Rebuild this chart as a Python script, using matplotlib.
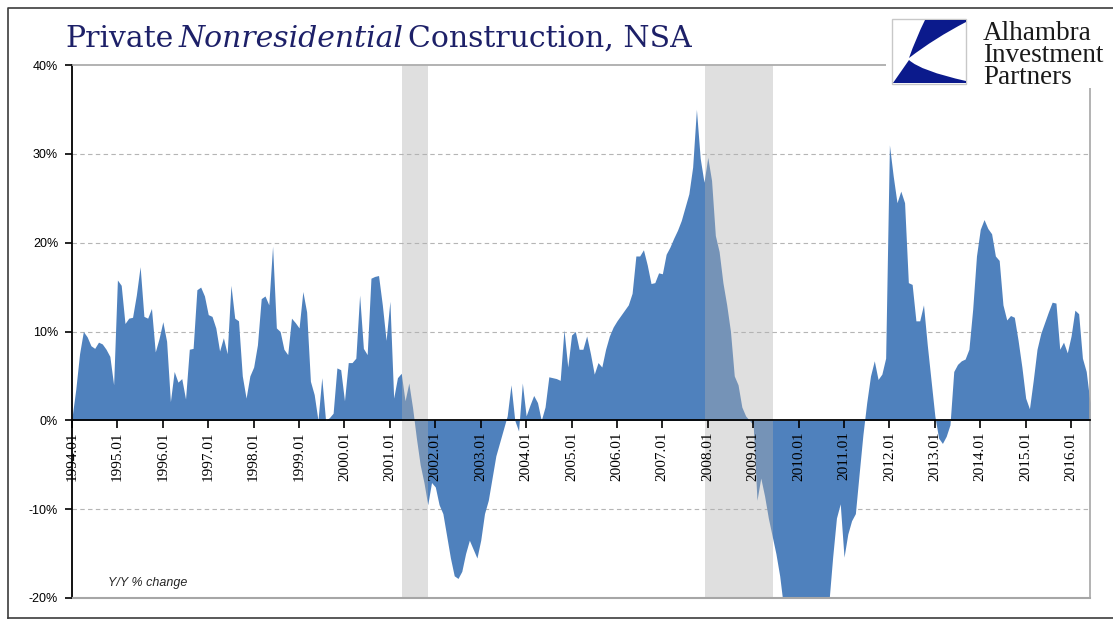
import numpy as np
import matplotlib
matplotlib.use("Agg")
import matplotlib.pyplot as plt
from matplotlib.patches import Rectangle, PathPatch
from matplotlib.path import Path

# monthly categories 1994.01 .. 2016.06
months = [f"{1994 + i // 12}.{i % 12 + 1:02d}" for i in range(270)]

# private nonresidential construction spending, Y/Y % change (NSA)
yoy = [
    0.3, 3.5, 7.5, 10, 9.4, 8.4, 8.1, 8.8, 8.6, 8, 7.2, 4,                       # 1994
    15.8, 15.2, 10.9, 11.5, 11.6, 14.1, 17.3, 11.7, 11.5, 12.6, 7.7, 9.2,        # 1995
    11.1, 8.9, 2.1, 5.5, 4.3, 4.7, 2.4, 8, 8.1, 14.7, 15, 14,                    # 1996
    11.9, 11.7, 10.4, 7.8, 9.3, 7.5, 15.2, 11.5, 11.2, 5, 2.5, 5,                # 1997
    6, 8.5, 13.7, 14, 13, 19.6, 10.4, 10, 8, 7.4, 11.5, 11,                      # 1998
    10.4, 14.5, 12.2, 4.4, 2.9, 0, 4.8, 0, 0.3, 0.8, 5.9, 5.7,                   # 1999
    2.2, 6.5, 6.5, 7, 14.1, 8.1, 7.4, 16, 16.2, 16.3, 13, 9,                     # 2000
    13.4, 2.5, 4.8, 5.3, 2.2, 4.2, 1.4, -2, -5, -7, -9.5, -7,                    # 2001
    -7.5, -9.5, -10.5, -13, -15.5, -17.5, -17.8, -17, -15, -13.5, -14.5, -15.5,  # 2002
    -13.5, -10.5, -9, -6.5, -4, -2.5, -1, 0.5, 4, 0, -1.2, 4.2,                  # 2003
    0.5, 1.7, 2.8, 2, 0, 1.5, 4.9, 4.8, 4.7, 4.5, 10.2, 6,                       # 2004
    9.6, 10, 8, 8, 9.5, 7.5, 5.2, 6.5, 6, 8, 9.5, 10.5,                          # 2005
    11.2, 11.8, 12.4, 13, 14.3, 18.5, 18.5, 19.2, 17.5, 15.4, 15.5, 16.6,        # 2006
    16.5, 18.7, 19.5, 20.5, 21.4, 22.5, 24, 25.5, 28.5, 35, 29.5, 26.8,          # 2007
    29.6, 27, 20.8, 19, 15.5, 13, 10, 5, 4, 1.5, 0.5, 0,                         # 2008
    -0.5, -9, -6.5, -8.5, -11, -13, -15, -17.5, -21, -23, -25, -26,              # 2009
    -27, -28, -28, -27, -26, -25, -24, -22, -20.5, -15.4, -11, -9.4,             # 2010
    -15.4, -12.8, -11.3, -10.5, -6, -1.6, 2, 5, 6.7, 4.6, 5.2, 7,                # 2011
    31, 27.5, 24.5, 25.8, 24.5, 15.5, 15.3, 11.2, 11.2, 13, 8.5, 4.5,            # 2012
    0.5, -2, -2.6, -1.8, -0.5, 5.5, 6.3, 6.7, 6.9, 8, 12.5, 18.5,                # 2013
    21.5, 22.6, 21.6, 21, 18.5, 18, 13, 11.3, 11.8, 11.6, 9, 6,                  # 2014
    2.5, 1.3, 4.5, 8, 9.8, 11, 12.2, 13.3, 13.2, 8, 8.8, 7.6,                    # 2015
    9.5, 12.4, 12, 7, 5.5, 2,                                                    # 2016
]

# NBER recessions (first, last month)
recessions = [("2001.04", "2001.11"), ("2007.12", "2009.06")]

y_ticks = [-20, -10, 0, 10, 20, 30, 40]
y_ticklabels = [f"{v}%" for v in y_ticks]

W, H = 1113, 624
fig = plt.figure(figsize=(W / 100, H / 100), dpi=100)
fig.patch.set_facecolor("white")


def px_box(l, t, r, b):
    return [l / W, 1 - b / H, (r - l) / W, (b - t) / H]


ax = fig.add_axes(px_box(72, 65, 1090, 598))
x = np.arange(len(yoy))

for v in (-10, 10, 20, 30):
    ax.axhline(v, color="#b5b5b5", lw=0.8, ls=(0, (4, 3)), zorder=1)

ax.fill_between(x, yoy, 0, color="#4f81bd", lw=0, zorder=2)

for a, b in recessions:
    ax.axvspan(months.index(a) + 0.3, months.index(b) + 0.2,
               color="#b0b0b0", alpha=0.4, lw=0, zorder=3)

ax.set_xlim(0, len(yoy) - 1)
ax.set_ylim(-20, 40)

ax.set_yticks(y_ticks)
ax.set_yticklabels(y_ticklabels)
ax.set_xticks(x[::12])
ax.set_xticklabels(months[::12])

ax.spines["bottom"].set_position(("data", 0))
ax.spines["bottom"].set_zorder(6)
for s in ("bottom", "left"):
    ax.spines[s].set_color("black")
    ax.spines[s].set_linewidth(1.3)
for s in ("top", "right"):
    ax.spines[s].set_color("#a6a6a6")
    ax.spines[s].set_linewidth(1.2)
ax.axhline(-20, color="#a6a6a6", lw=1.5, clip_on=False, zorder=6)

# ticks and their labels sit above the filled area
ax.xaxis.set_zorder(7)
ax.yaxis.set_zorder(7)
ax.tick_params(axis="x", direction="out", length=6, width=1.2, pad=2, labelrotation=90)
ax.tick_params(axis="y", direction="out", length=5, width=1.2, pad=5)
for lab in ax.get_xticklabels():
    lab.set_fontfamily("Liberation Serif")
    lab.set_fontsize(11)
for lab in ax.get_yticklabels():
    lab.set_fontfamily("Liberation Sans")
    lab.set_fontsize(9)

ax.text(9.5, -18.6, "Y/Y % change", fontsize=9, style="italic",
        family="Liberation Sans", color="#262626", ha="left", va="baseline", zorder=7)

# overlay in pixel coordinates for title, logo and chart border
ov = fig.add_axes([0, 0, 1, 1])
ov.set_zorder(5)
ov.patch.set_visible(False)
ov.set_xlim(0, W)
ov.set_ylim(H, 0)
ov.axis("off")

ov.plot([8, 8, W], [H - 6, 8, 8], color="#3c3c3c", lw=1.2)
ov.plot([8, W], [H - 6, H - 6], color="#3c3c3c", lw=1.2)

# title with an italic middle word
renderer = fig.canvas.get_renderer()
title_parts = [("Private", "normal"), ("Nonresidential", "italic"), ("Construction, NSA", "normal")]
tx = 65
for word, st in title_parts:
    t = ov.text(tx, 47, word, fontsize=21.5, family="DejaVu Serif", style=st,
                color="#1d2068", ha="left", va="baseline")
    bb = t.get_window_extent(renderer=renderer)
    tx += bb.width + 5

# logo
ov.add_patch(Rectangle((886, 12), 227, 76, fc="white", ec="none", zorder=2))
ov.add_patch(Rectangle((892, 19), 74, 65, fc="white", ec="#c8c8c8", lw=1, zorder=3))
navy = "#0b1a8c"
upper = Path([(925, 20), (966, 20), (966, 22), (935, 38), (909, 58), (916, 38), (925, 20)],
             [Path.MOVETO, Path.LINETO, Path.LINETO, Path.CURVE3, Path.CURVE3,
              Path.CURVE3, Path.CURVE3])
lower = Path([(909, 60), (893, 83), (966, 83), (966, 81), (921, 71), (909, 60)],
             [Path.MOVETO, Path.LINETO, Path.LINETO, Path.LINETO, Path.CURVE3, Path.CURVE3])
ov.add_patch(PathPatch(upper, fc=navy, ec="none", zorder=4))
ov.add_patch(PathPatch(lower, fc=navy, ec="none", zorder=4))
ov.text(983, 84, "Alhambra\nInvestment\nPartners", fontsize=19.5, family="Liberation Serif",
        color="#1a1a1a", ha="left", va="baseline", linespacing=0.84, zorder=5)

fig.savefig("out.png", dpi=100, facecolor="white")
